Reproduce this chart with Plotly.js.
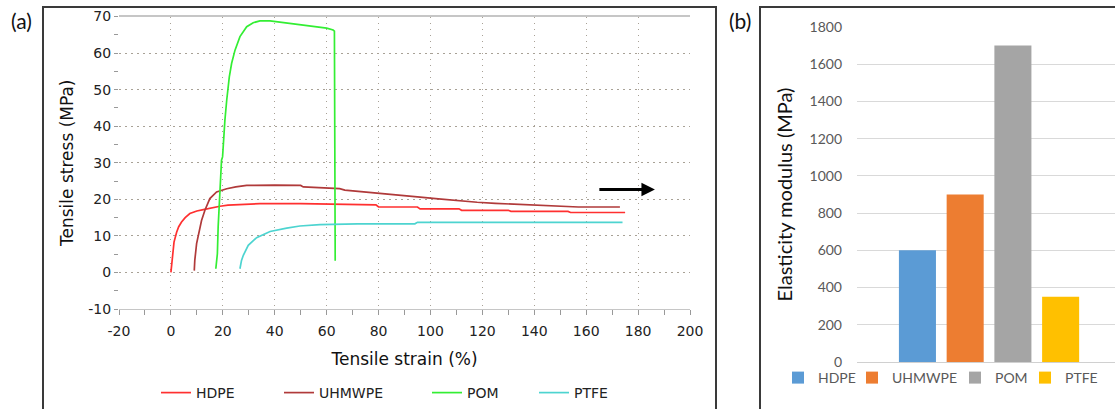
<!DOCTYPE html>
<html>
<head>
<meta charset="utf-8">
<script src="https://cdn.plot.ly/plotly-3.0.1.min.js"></script>
<style>html,body{margin:0;padding:0;background:#fff;overflow:hidden}#chart{width:1115px;height:409px}</style>
</head>
<body>
<div id="chart"></div>
<script>
// ---- Panel (a): tensile stress-strain curves ----
const hdpeStrain = [0, 0.3, 0.6, 1.2, 2.2, 3, 4.1, 5.5, 7.3, 10, 12.5, 15, 18.9, 22, 26.6, 34.3, 50, 65, 66, 79, 80, 95, 96, 111, 112, 130, 131, 153, 154, 175];
const hdpeStress = [0, 2, 4.2, 8.3, 11.0, 12.5, 13.8, 15, 16.1, 16.8, 17.2, 17.6, 18.1, 18.4, 18.6, 18.8, 18.8, 18.7, 18.5, 18.5, 17.9, 17.9, 17.4, 17.4, 17.0, 17.0, 16.7, 16.7, 16.4, 16.4];

const uhmwpeStrain = [9.0, 9.2, 9.9, 10.9, 11.8, 13.1, 15.0, 17.6, 21.5, 25, 29.2, 40, 50, 51, 59, 65, 67, 72, 79, 86, 91, 96, 102, 106, 112, 118, 125, 137, 146, 157, 173];
const uhmwpeStress = [0.5, 3.3, 7.9, 11.5, 14.2, 17.0, 20.2, 22.0, 22.9, 23.4, 23.8, 23.9, 23.8, 23.4, 23.2, 22.9, 22.5, 22.2, 21.8, 21.4, 21.0, 20.6, 20.2, 19.9, 19.6, 19.2, 18.9, 18.6, 18.3, 17.9, 17.9];

const pomStrain = [17.3, 17.9, 18.2, 18.6, 18.9, 19.5, 19.9, 20.2, 20.8, 21.5, 22.5, 23.4, 24.7, 26.6, 29.2, 31.7, 34.3, 38.2, 43.3, 49.7, 56.1, 60, 62.5, 63.0, 63.3];
const pomStress = [1.0, 5.1, 12.4, 18.8, 25.2, 30.7, 31.6, 35.3, 41.6, 47.1, 53.5, 57.2, 60.8, 64.5, 67.2, 68.3, 68.8, 68.8, 68.3, 67.7, 67.0, 66.8, 66.3, 66.0, 3.2];

const ptfeStrain = [26.6, 27.2, 27.9, 29.8, 33.0, 38.2, 44.6, 49.7, 57.4, 62.5, 72, 94, 95, 174];
const ptfeStress = [1.0, 3.3, 4.7, 7.4, 9.5, 11.2, 12.1, 12.7, 13.1, 13.2, 13.3, 13.3, 13.7, 13.7];

const strainTickVals = [-20, 0, 20, 40, 60, 80, 100, 120, 140, 160, 180, 200];
const strainTickText = ['-20', '0', '20', '40', '60', '80', '100', '120', '140', '160', '180', '200'];
const stressTickVals = [-10, 0, 10, 20, 30, 40, 50, 60, 70];
const stressTickText = ['-10', '0', '10', '20', '30', '40', '50', '60', '70'];

// ---- Panel (b): elasticity modulus ----
const materials = ['HDPE', 'UHMWPE', 'POM', 'PTFE'];
const modulus = [600, 900, 1700, 350];
const barCategory = 'Elasticity modulus';

const lineColors = ['#ff3030', '#b03a3a', '#33ee33', '#4dd4d0'];
const barColors = ['#5b9bd5', '#ed7d31', '#a5a5a5', '#ffc000'];
const lineLegendWidths = [78, 103, 62, 40];
const barLegendWidths = [29, 58, 25, 36];

const curves = [
  [hdpeStrain, hdpeStress],
  [uhmwpeStrain, uhmwpeStress],
  [pomStrain, pomStress],
  [ptfeStrain, ptfeStress]
];

const W = 1115, H = 409;
const px = v => v / W;
const py = v => (H - v) / H;

const traces = [];
curves.forEach((c, i) => {
  traces.push({
    type: 'scatter', mode: 'lines', name: materials[i],
    x: c[0], y: c[1], xaxis: 'x', yaxis: 'y',
    line: {color: lineColors[i], width: 1.7},
    legend: 'legend', legendwidth: lineLegendWidths[i], hoverinfo: 'skip'
  });
});
materials.forEach((m, i) => {
  traces.push({
    type: 'bar', name: m, x: [barCategory], y: [modulus[i]],
    xaxis: 'x2', yaxis: 'y2', marker: {color: barColors[i]},
    legend: 'legend2', legendwidth: barLegendWidths[i], hoverinfo: 'skip'
  });
});

const dotGrid = '#a8a196';
const fA = 'DejaVu Sans, Verdana, sans-serif';
const fB = 'Lato, Open Sans, sans-serif';

const layout = {
  width: W, height: H,
  margin: {l: 0, r: 0, t: 0, b: 0, autoexpand: false},
  paper_bgcolor: '#ffffff', plot_bgcolor: 'rgba(0,0,0,0)',
  showlegend: true,
  barmode: 'group', bargap: 0.277, bargroupgap: 0.224,
  xaxis: {
    anchor: 'y',
    domain: [px(119), px(690)], range: [-20, 200],
    tickmode: 'array', tickvals: strainTickVals, ticktext: strainTickText,
    showgrid: true, gridcolor: dotGrid, griddash: '1.5px,4.5px', gridwidth: 1,
    zeroline: false, showline: true, linecolor: '#c6c6c6', linewidth: 1.2, mirror: true,
    ticks: 'outside', ticklen: 5, tickcolor: '#999999', tickwidth: 1,
    minor: {dtick: 10, ticks: 'outside', ticklen: 5, tickcolor: '#999999', showgrid: false},
    tickfont: {family: fA, size: 14, color: '#222222'}, ticklabelstandoff: 4,
    title: {text: 'Tensile strain (%)', font: {family: fA, size: 17, color: '#111111'}, standoff: 15},
    fixedrange: true
  },
  yaxis: {
    anchor: 'x',
    domain: [(H - 309) / H, (H - 16.5) / H], range: [-10, 70],
    tickmode: 'array', tickvals: stressTickVals, ticktext: stressTickText,
    showgrid: true, gridcolor: dotGrid, griddash: '1.5px,4.5px', gridwidth: 1,
    zeroline: false, showline: false,
    ticks: 'outside', ticklen: 4, tickcolor: '#999999',
    minor: {dtick: 5, ticks: 'outside', ticklen: 4, tickcolor: '#999999', showgrid: false},
    tickfont: {family: fA, size: 14, color: '#222222'},
    title: {text: 'Tensile stress (MPa)', font: {family: fA, size: 17, color: '#111111'}, standoff: 10},
    fixedrange: true
  },
  xaxis2: {
    anchor: 'y2',
    domain: [px(857), 1], type: 'category', range: [-0.5, 0.477],
    showticklabels: false, showgrid: false, zeroline: false, showline: false, ticks: '',
    fixedrange: true
  },
  yaxis2: {
    anchor: 'x2',
    domain: [(H - 362) / H, (H - 27) / H], range: [0, 1800], dtick: 200,
    showgrid: true, gridcolor: '#d9d9d9', gridwidth: 1, zeroline: true, zerolinecolor: '#d0d0d0',
    showline: false, ticks: '', ticklabelstandoff: 14,
    tickfont: {family: fB, size: 14, color: '#595959'},
    title: {text: 'Elasticity modulus (MPa)', font: {family: fB, size: 20, color: '#111111'}, standoff: 11},
    fixedrange: true
  },
  legend: {
    orientation: 'h', x: px(156), xanchor: 'left', y: py(393), yanchor: 'middle',
    font: {family: fA, size: 14, color: '#222222'}, bgcolor: 'rgba(0,0,0,0)'
  },
  legend2: {
    orientation: 'h', x: px(778), xanchor: 'left', y: py(378), yanchor: 'middle',
    font: {family: fB, size: 14, color: '#595959'}, bgcolor: 'rgba(0,0,0,0)'
  },
  shapes: [
    {type: 'path', xref: 'paper', yref: 'paper',
     path: `M ${px(43)} -0.05 L ${px(43)} ${py(7)} L ${px(716)} ${py(7)} L ${px(716)} -0.05`,
     line: {color: '#3a3a3a', width: 2}},
    {type: 'path', xref: 'paper', yref: 'paper',
     path: `M ${px(760)} -0.05 L ${px(760)} ${py(7)} L 1.05 ${py(7)}`,
     line: {color: '#3a3a3a', width: 2}}
  ],
  annotations: [
    {text: '(a)', xref: 'paper', yref: 'paper', x: px(21), y: py(20), xanchor: 'center', yanchor: 'middle',
     showarrow: false, font: {family: fB, size: 21, color: '#111111'}},
    {text: '(b)', xref: 'paper', yref: 'paper', x: px(740), y: py(20), xanchor: 'center', yanchor: 'middle',
     showarrow: false, font: {family: fB, size: 21, color: '#111111'}},
    {text: '', xref: 'x', yref: 'y', x: 186.5, y: 22.7, axref: 'x', ayref: 'y', ax: 164.5, ay: 22.7,
     showarrow: true, arrowhead: 2, arrowsize: 0.9, arrowwidth: 3, arrowcolor: '#000000'}
  ]
};

Plotly.newPlot('chart', traces, layout, {displayModeBar: false, staticPlot: true});
</script>
</body>
</html>
